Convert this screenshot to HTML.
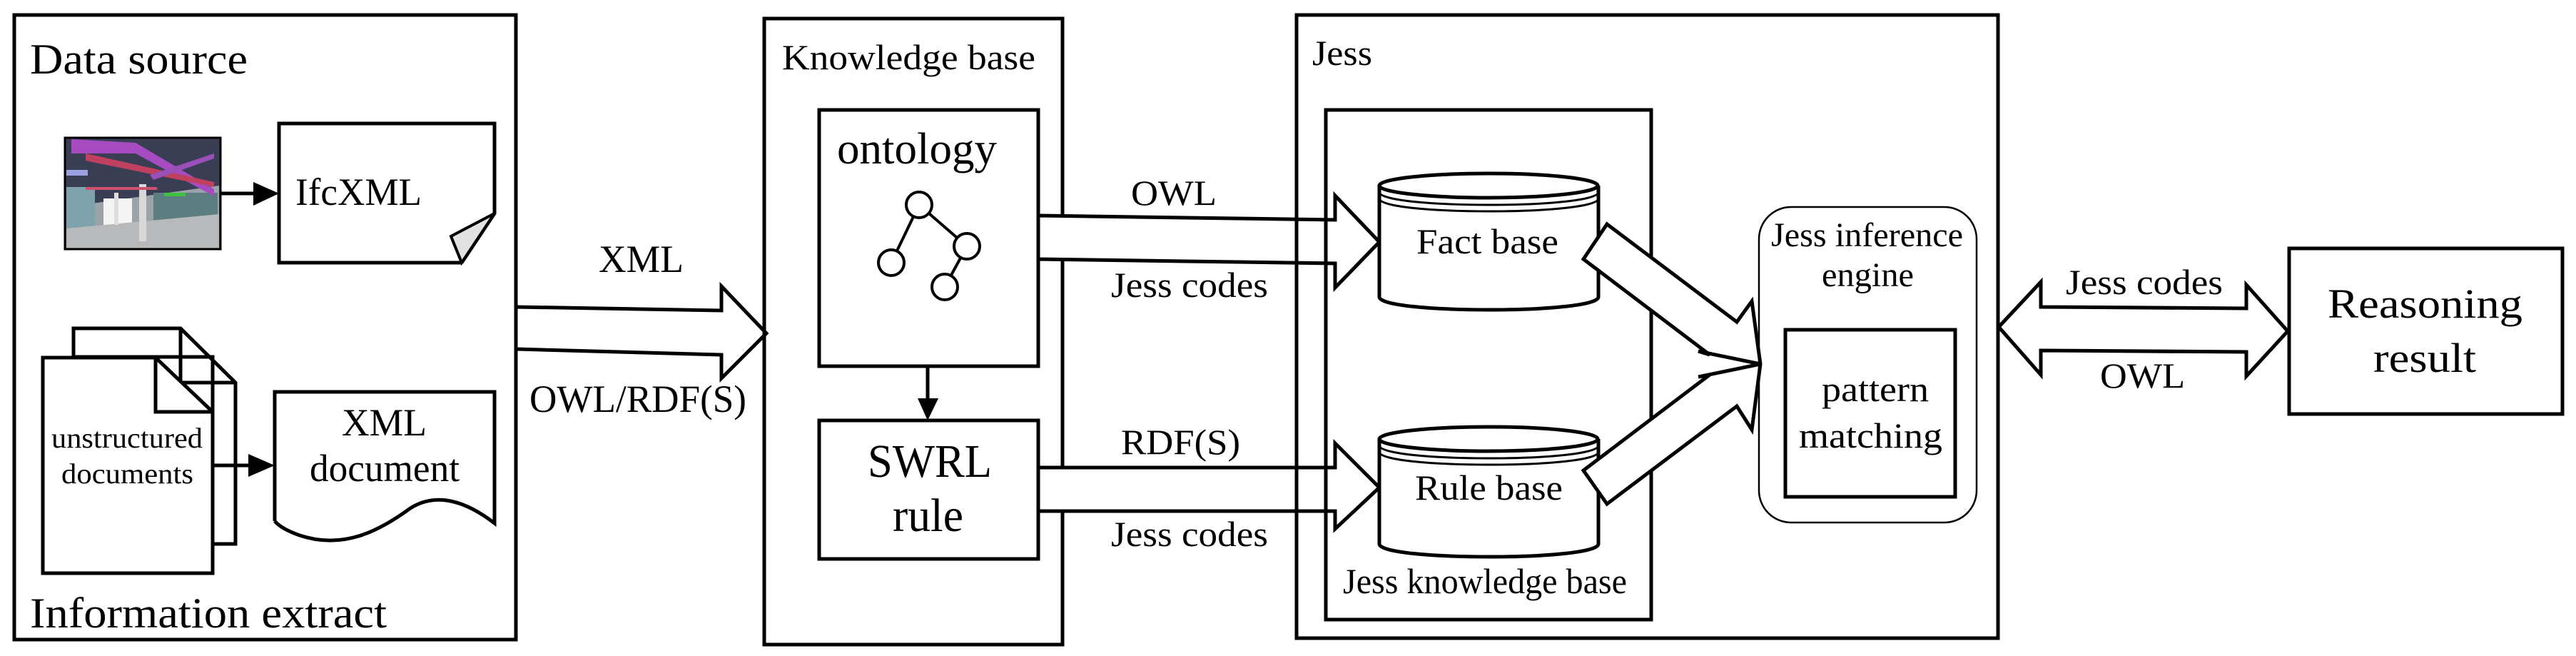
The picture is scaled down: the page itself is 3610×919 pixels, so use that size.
<!DOCTYPE html>
<html><head><meta charset="utf-8"><style>html,body{margin:0;padding:0;background:#fff}svg{display:block}svg text{font-family:"Liberation Serif","Times New Roman",serif}</style></head>
<body>
<svg width="3610" height="919" viewBox="0 0 3610 919" xmlns="http://www.w3.org/2000/svg" fill="none" stroke="#000">
<rect width="3610" height="919" fill="#fff" stroke="none"/>
<rect x="20" y="21" width="703" height="875" stroke-width="5"/>
<g fill="#000" stroke="none" font-size="60">
<text x="42" y="103" textLength="305" lengthAdjust="spacingAndGlyphs">Data source</text>
<text x="42" y="879" textLength="500" lengthAdjust="spacingAndGlyphs">Information extract</text>
</g>
<g stroke="none">
<rect x="91" y="193" width="218" height="156" fill="#3a3e55"/>
<polygon points="93,290 307,260 307,349 93,349" fill="#9aa3a8"/>
<rect x="93" y="262" width="40" height="85" fill="#7fa3ad"/>
<rect x="145" y="278" width="40" height="40" fill="#f4f4f4"/>
<rect x="215" y="270" width="90" height="60" fill="#5c7e80"/>
<polygon points="93,320 307,300 307,347 93,347" fill="#b7b9bb"/>
<rect x="195" y="258" width="10" height="80" fill="#d8d8d8"/>
<rect x="160" y="270" width="6" height="45" fill="#ddd"/>
<polygon points="100,195 190,200 300,265 300,275 190,215 100,215" fill="#a64cc0"/>
<polygon points="120,215 300,255 300,262 120,225" fill="#c04060"/>
<polygon points="210,245 300,215 300,222 215,252" fill="#9a50b8"/>
<rect x="93" y="238" width="30" height="8" fill="#9aa0e0"/>
<rect x="120" y="262" width="100" height="4" fill="#d05070"/>
<rect x="230" y="270" width="30" height="5" fill="#40c040"/>
</g>
<rect x="91" y="193" width="218" height="156" stroke-width="3"/>
<line x1="309" y1="271" x2="360" y2="271" stroke-width="5"/>
<polygon points="355,255 391,271 355,288" fill="#000" stroke="none"/>
<polyline points="647,368 391,368 391,173 693,173 693,299 647,368" stroke-width="5"/>
<polygon points="693,299 632,331 647,368" fill="#e2e2e2" stroke-width="4"/>
<text x="414" y="287" font-size="54" fill="#000" stroke="none" textLength="177" lengthAdjust="spacingAndGlyphs">IfcXML</text>
<polygon points="103,460 253,460 330,536 330,762 298,762 298,500 103,500" fill="#fff" stroke-width="5"/>
<polyline points="253,460 253,536 330,536" stroke-width="5"/>
<polygon points="60,501 218,501 298,577 298,803 60,803" fill="#fff" stroke-width="5"/>
<polyline points="218,501 218,577 298,577" stroke-width="5"/>
<g fill="#000" stroke="none" font-size="40">
<text x="72" y="627" textLength="212" lengthAdjust="spacingAndGlyphs">unstructured</text>
<text x="86" y="677" textLength="185" lengthAdjust="spacingAndGlyphs">documents</text>
</g>
<line x1="298" y1="652" x2="355" y2="652" stroke-width="5"/>
<polygon points="348,636 385,652 348,668" fill="#000" stroke="none"/>
<path d="M385,730 L385,549 L693,549 L693,733 C650,700 610,690 575,712 C530,745 480,770 420,750 C400,743 390,736 385,730" stroke-width="5"/>
<g fill="#000" stroke="none" font-size="54">
<text x="479" y="610" textLength="119" lengthAdjust="spacingAndGlyphs">XML</text>
<text x="434" y="674" textLength="210" lengthAdjust="spacingAndGlyphs">document</text>
</g>
<polygon points="723,430 1011,435 1011,401 1074,467 1011,530 1011,497 723,489" fill="#fff" stroke-width="5"/>
<g fill="#000" stroke="none" font-size="54">
<text x="839" y="381" textLength="119" lengthAdjust="spacingAndGlyphs">XML</text>
<text x="742" y="577" textLength="304" lengthAdjust="spacingAndGlyphs">OWL/RDF(S)</text>
</g>
<rect x="1071" y="26" width="418" height="877" stroke-width="5"/>
<text x="1096" y="97" font-size="50" fill="#000" stroke="none" textLength="355" lengthAdjust="spacingAndGlyphs">Knowledge base</text>
<rect x="1148" y="154" width="307" height="359" stroke-width="5"/>
<text x="1173" y="229" font-size="62" fill="#000" stroke="none" textLength="224" lengthAdjust="spacingAndGlyphs">ontology</text>
<g stroke-width="4">
<line x1="1288" y1="287" x2="1355" y2="345"/>
<line x1="1288" y1="287" x2="1249" y2="368"/>
<line x1="1355" y1="345" x2="1324" y2="402"/>
<circle cx="1288" cy="287" r="18" fill="#fff"/>
<circle cx="1355" cy="345" r="18" fill="#fff"/>
<circle cx="1249" cy="368" r="18" fill="#fff"/>
<circle cx="1324" cy="402" r="18" fill="#fff"/>
</g>
<line x1="1300" y1="513" x2="1300" y2="565" stroke-width="5"/>
<polygon points="1286,558 1315,558 1300,589" fill="#000" stroke="none"/>
<rect x="1148" y="589" width="307" height="194" stroke-width="5"/>
<g fill="#000" stroke="none" font-size="66">
<text x="1216" y="668" textLength="174" lengthAdjust="spacingAndGlyphs">SWRL</text>
<text x="1251" y="744" textLength="99" lengthAdjust="spacingAndGlyphs">rule</text>
</g>
<polygon points="1455,302 1871,308 1871,274 1933,339 1871,403 1871,369 1455,363" fill="#fff" stroke-width="5"/>
<polygon points="1455,655 1871,655 1871,621 1933,683 1871,741 1871,716 1455,716" fill="#fff" stroke-width="5"/>
<g fill="#000" stroke="none" font-size="50">
<text x="1585" y="287" textLength="120" lengthAdjust="spacingAndGlyphs">OWL</text>
<text x="1557" y="416" textLength="220" lengthAdjust="spacingAndGlyphs">Jess codes</text>
<text x="1571" y="636" textLength="167" lengthAdjust="spacingAndGlyphs">RDF(S)</text>
<text x="1557" y="765" textLength="220" lengthAdjust="spacingAndGlyphs">Jess codes</text>
</g>
<rect x="1817" y="21" width="983" height="873" stroke-width="5"/>
<text x="1839" y="91" font-size="50" fill="#000" stroke="none" textLength="84" lengthAdjust="spacingAndGlyphs">Jess</text>
<rect x="1858" y="154" width="456" height="714" stroke-width="5"/>
<text x="1882" y="831" font-size="50" fill="#000" stroke="none" textLength="398" lengthAdjust="spacingAndGlyphs">Jess knowledge base</text>
<g stroke-width="5" fill="#fff">
<path d="M1933,260 L1933,416 C1933,440 2240,440 2240,416 L2240,260"/>
<ellipse cx="2086" cy="260" rx="153" ry="17"/>
<path d="M1933,269 C1933,293 2240,293 2240,269" fill="none" stroke-width="3"/>
<path d="M1933,278 C1933,302 2240,302 2240,278" fill="none" stroke-width="3"/>
<path d="M1933,615 L1933,762 C1933,786 2240,786 2240,762 L2240,615"/>
<ellipse cx="2086" cy="615" rx="153" ry="17"/>
<path d="M1933,624 C1933,648 2240,648 2240,624" fill="none" stroke-width="3"/>
<path d="M1933,633 C1933,657 2240,657 2240,633" fill="none" stroke-width="3"/>
</g>
<g fill="#000" stroke="none" font-size="50">
<text x="1985" y="355" textLength="199" lengthAdjust="spacingAndGlyphs">Fact base</text>
<text x="1983" y="700" textLength="207" lengthAdjust="spacingAndGlyphs">Rule base</text>
</g>
<path d="M2252,314 L2434,451 L2455,422 L2467,510 L2455,602 L2434,569 L2252,706 L2219,659 L2396,525 L2380,528 L2467,510 L2380,492 L2396,497 L2219,363 Z" fill="#fff" stroke-width="5" stroke-linejoin="miter"/>
<rect x="2465" y="290" width="305" height="442" rx="45" ry="45" stroke-width="2.5"/>
<g fill="#000" stroke="none" font-size="48">
<text x="2482" y="345" textLength="269" lengthAdjust="spacingAndGlyphs">Jess inference</text>
<text x="2553" y="401" textLength="129" lengthAdjust="spacingAndGlyphs">engine</text>
</g>
<rect x="2502" y="462" width="238" height="234" stroke-width="5"/>
<g fill="#000" stroke="none" font-size="50">
<text x="2553" y="562" textLength="150" lengthAdjust="spacingAndGlyphs">pattern</text>
<text x="2521" y="627" textLength="201" lengthAdjust="spacingAndGlyphs">matching</text>
</g>
<polygon points="2801,458 2860,395 2860,430 3148,432 3148,399 3206,464 3148,527 3148,493 2860,491 2860,525" fill="#fff" stroke-width="5"/>
<g fill="#000" stroke="none" font-size="50">
<text x="2895" y="412" textLength="220" lengthAdjust="spacingAndGlyphs">Jess codes</text>
<text x="2943" y="543" textLength="119" lengthAdjust="spacingAndGlyphs">OWL</text>
</g>
<rect x="3208" y="348" width="383" height="232" stroke-width="5"/>
<g fill="#000" stroke="none" font-size="58">
<text x="3262" y="445" textLength="273" lengthAdjust="spacingAndGlyphs">Reasoning</text>
<text x="3326" y="521" textLength="144" lengthAdjust="spacingAndGlyphs">result</text>
</g>
</svg>
</body></html>
